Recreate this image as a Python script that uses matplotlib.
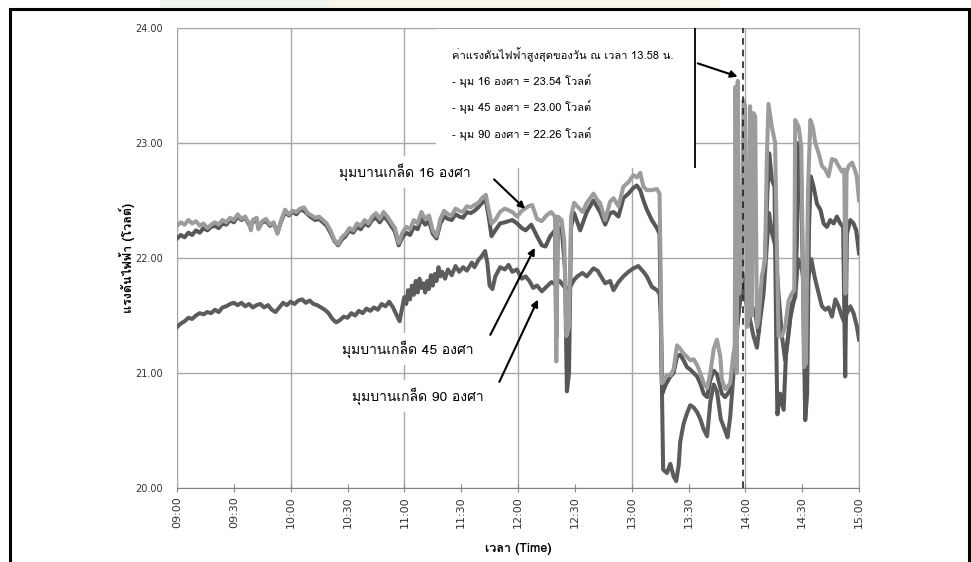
import matplotlib
matplotlib.use('Agg')
import matplotlib.pyplot as plt
from matplotlib import font_manager
from matplotlib.ft2font import FT2Font
from matplotlib.patches import Rectangle

# pick any installed font that has Thai glyphs
thai_font = None
for f in font_manager.fontManager.ttflist:
    try:
        if 0x0E01 in FT2Font(f.fname).get_charmap():
            thai_font = f.name
            break
    except Exception:
        pass
thai_fam = [thai_font, 'DejaVu Sans'] if thai_font else ['DejaVu Sans']

# minutes after 09:00
t16 = [0, 2, 4, 6, 8, 10, 12, 14, 16, 18, 20, 22, 24, 26, 28, 30, 32, 34, 36, 38, 39, 40, 42, 43, 45, 47, 49,
       51, 53, 55, 57, 59, 61, 63, 65, 67, 69, 71, 73, 75, 77, 79, 81, 83, 85, 87, 89, 91, 93, 95, 97, 99, 101,
       103, 105, 107, 109, 111, 113, 115, 117, 119, 121, 123, 125, 127, 129, 131, 133, 135, 137, 139, 141, 143,
       145, 147, 149, 151, 153, 155, 157, 159, 161, 163, 164.5, 166, 168, 170.5, 173, 177, 179.5, 182, 185.5,
       187.5, 190, 192.5, 195, 197.5, 199.5, 200.2, 201, 203, 204.4, 205.5, 206.9, 208, 209.6, 211.3, 214, 216.3,
       219.8, 222, 223.3, 226, 228.6, 230.4, 233, 235.6, 238.3, 240.9, 242.7, 244.5, 246.2, 248, 250.6, 253.3,
       254.7, 255.3, 255.9, 256.8, 258.6, 260.4, 262.1, 263.9, 265.6, 267.4, 269.2, 270.9, 272.7, 274.5, 276.2,
       278, 279.8, 281.5, 283.3, 285, 286.8, 287.6, 289.5, 292, 293.7, 294.4, 294.8, 295.4, 296.0, 296.7, 298.1,
       299.0, 299.9, 300.8, 301.7, 302.5, 303.4, 304.3, 305.2, 306.1, 306.9, 308.7, 310.4, 311.3, 312.2, 314,
       315.7, 316.6, 317.5, 319.3, 321, 322.8, 324.5, 325.8, 326.3, 328.1, 329.5, 330.3, 330.9, 332, 333, 334.3,
       335.6, 336.9, 338.7, 340.4, 342.2, 343.9, 345.7, 347.5, 349.2, 351, 352.2, 352.8, 353.4, 354.5, 356.3,
       357.7, 358.8, 360]
v16 = [22.28, 22.31, 22.29, 22.33, 22.30, 22.32, 22.28, 22.30, 22.26, 22.29, 22.31, 22.29, 22.33, 22.31, 22.35,
       22.33, 22.38, 22.34, 22.36, 22.30, 22.24, 22.33, 22.35, 22.25, 22.32, 22.34, 22.29, 22.31, 22.21, 22.33,
       22.42, 22.38, 22.41, 22.40, 22.43, 22.44, 22.39, 22.37, 22.35, 22.36, 22.33, 22.30, 22.24, 22.16, 22.12,
       22.18, 22.21, 22.26, 22.24, 22.30, 22.28, 22.33, 22.30, 22.36, 22.39, 22.34, 22.40, 22.36, 22.31, 22.26,
       22.13, 22.22, 22.27, 22.25, 22.33, 22.30, 22.40, 22.34, 22.37, 22.24, 22.19, 22.34, 22.41, 22.38, 22.37,
       22.43, 22.41, 22.40, 22.45, 22.44, 22.46, 22.48, 22.52, 22.55, 22.42, 22.30, 22.33, 22.40, 22.43, 22.40,
       22.36, 22.41, 22.45, 22.46, 22.34, 22.32, 22.37, 22.40, 22.36, 21.10, 22.36, 22.33, 22.15, 21.32, 21.40,
       22.36, 22.48, 22.45, 22.40, 22.48, 22.56, 22.50, 22.48, 22.33, 22.49, 22.52, 22.45, 22.62, 22.66, 22.72,
       22.70, 22.74, 22.62, 22.59, 22.59, 22.60, 22.56, 21.87, 20.91, 20.94, 20.98, 20.98, 21.03, 21.24, 21.21,
       21.17, 21.14, 21.11, 21.12, 21.07, 21.00, 20.91, 20.87, 21.00, 21.21, 21.29, 21.14, 20.94, 20.86, 20.91,
       21.17, 21.20, 23.49, 21.00, 23.54, 21.69, 21.84, 23.37, 23.32, 21.40, 21.46, 23.32, 21.50, 23.26, 23.23,
       21.40, 21.45, 21.84, 21.98, 22.85, 23.34, 23.14, 23.00, 22.13, 21.32, 21.32, 21.40, 21.63, 21.69, 21.72,
       23.20, 23.14, 22.97, 22.00, 21.05, 21.08, 22.56, 23.20, 23.14, 23.00, 22.91, 22.80, 22.77, 22.71, 22.86,
       22.85, 22.80, 22.75, 22.77, 21.69, 22.74, 22.80, 22.83, 22.77, 22.71, 22.50]

t45 = [0, 2, 4, 6, 8, 10, 12, 14, 16, 18, 20, 22, 24, 26, 28, 30, 32, 34, 36, 38, 40, 42, 43, 45, 47, 49, 51,
       53, 55, 57, 59, 61, 63, 65, 67, 69, 71, 73, 75, 77, 79, 81, 83, 85, 87, 89, 91, 93, 95, 97, 99, 101, 103,
       105, 107, 109, 111, 113, 115, 117, 119, 121, 123, 125, 127, 129, 131, 133, 135, 137, 139, 141, 143, 145,
       147, 149, 151, 153, 155, 157, 159, 161, 163, 164.5, 166, 168, 170.5, 173, 177, 179.5, 182, 184, 187, 190,
       192.6, 194.5, 197, 199.5, 200.2, 201, 203, 204.8, 205.8, 206.9, 208, 209.6, 212.8, 216.3, 219.8, 223.3,
       226, 228.6, 230.4, 233, 235.6, 238.3, 240.9, 242.7, 244.5, 246.2, 248, 250.6, 253.3, 254.7, 255.5, 256.1,
       258, 260.4, 262.1, 263.9, 265.6, 267.4, 269.2, 270.9, 272.7, 274.5, 276.2, 278, 279.8, 281.5, 283.3, 285,
       287.6, 289.3, 292, 293.7, 295.5, 297.3, 299.0, 299.9, 301.7, 303.4, 305.2, 306.9, 308.7, 310.4, 311.6,
       312.6, 314, 315.4, 316.3, 316.9, 318.4, 320.2, 321.4, 323.7, 326, 327.2, 328.1, 329.5, 330.5, 331.6,
       332.6, 333.6, 334.5, 336, 337.8, 339.6, 341.3, 343, 344.8, 346.6, 348.3, 350.1, 351.6, 352.7, 353.6,
       355.4, 357.1, 358.5, 360]
v45 = [22.17, 22.20, 22.18, 22.22, 22.20, 22.24, 22.22, 22.26, 22.24, 22.27, 22.28, 22.26, 22.30, 22.29, 22.33,
       22.31, 22.36, 22.33, 22.35, 22.29, 22.31, 22.34, 22.26, 22.31, 22.32, 22.28, 22.30, 22.22, 22.32, 22.40,
       22.37, 22.40, 22.38, 22.42, 22.41, 22.38, 22.35, 22.33, 22.34, 22.31, 22.28, 22.22, 22.15, 22.11, 22.16,
       22.19, 22.24, 22.22, 22.27, 22.25, 22.30, 22.28, 22.33, 22.35, 22.31, 22.36, 22.33, 22.28, 22.23, 22.11,
       22.18, 22.22, 22.20, 22.27, 22.25, 22.34, 22.29, 22.32, 22.21, 22.17, 22.30, 22.36, 22.34, 22.33, 22.38,
       22.36, 22.35, 22.40, 22.39, 22.41, 22.44, 22.48, 22.50, 22.36, 22.19, 22.24, 22.30, 22.31, 22.33, 22.30,
       22.26, 22.24, 22.29, 22.19, 22.11, 22.10, 22.19, 22.24, 21.30, 22.24, 22.27, 21.90, 20.84, 21.00, 22.27,
       22.39, 22.24, 22.40, 22.50, 22.40, 22.29, 22.39, 22.40, 22.36, 22.52, 22.56, 22.61, 22.63, 22.59, 22.50,
       22.42, 22.33, 22.26, 22.21, 21.29, 20.82, 20.90, 20.97, 21.00, 21.14, 21.16, 21.11, 21.05, 21.03, 21.00,
       20.97, 20.91, 20.82, 20.79, 20.94, 21.02, 20.99, 20.82, 20.79, 20.85, 21.11, 21.40, 21.64, 21.84, 21.69,
       21.46, 21.58, 21.52, 21.35, 21.69, 22.01, 22.56, 22.91, 22.68, 22.62, 21.26, 20.64, 20.82, 20.68, 21.15,
       21.48, 21.66, 22.13, 23.00, 22.68, 21.69, 20.59, 20.82, 22.27, 22.71, 22.62, 22.47, 22.42, 22.30, 22.27,
       22.33, 22.30, 22.36, 22.30, 22.27, 20.97, 22.21, 22.33, 22.30, 22.24, 22.04]

t90 = [0, 2, 4, 6, 8, 10, 12, 14, 16, 18, 20, 22, 24, 26, 28, 30, 32, 34, 36, 38, 40, 42, 44, 46, 48, 50, 52,
       54, 56, 58, 60, 62, 64, 66, 68, 70, 72, 74, 76, 78, 80, 82, 84, 86, 88, 90, 92, 94, 96, 98, 100, 102, 104,
       106, 108, 110, 112, 114, 116, 117.5, 119, 120, 121, 122, 123, 124, 125, 126, 127, 128, 129, 130, 131, 132,
       133, 134, 135, 136, 137, 138, 139, 140, 141.5, 143, 145, 147, 149, 151, 153, 155.6, 157, 159, 161, 162.6,
       163.8, 165, 166.5, 168, 170.6, 173, 175, 177, 179.4, 182, 184, 186, 188, 190, 192.6, 195, 197.6, 200, 202,
       204.4, 206.9, 209.6, 211.3, 214, 216.3, 219.8, 222, 224.5, 226, 228.6, 230.4, 233, 235.6, 238.3, 240.9,
       243.5, 246.2, 248, 250.6, 253.3, 254.7, 255.4, 256.0, 256.6, 258.6, 260.4, 262.1, 263.5, 264.8, 265.6,
       267.4, 269.2, 270.9, 272.7, 274.5, 276.2, 278, 279.8, 281.5, 283.3, 285, 287, 289.3, 290.6, 292, 294,
       296.4, 298.5, 299.9, 302.5, 304.3, 306.1, 307.8, 309.6, 311.3, 312.5, 314, 315.7, 317.5, 319.3, 321,
       322.8, 324.5, 326.3, 327.8, 329.9, 331.6, 333.4, 334.8, 336.5, 338.7, 340.4, 342.2, 343.9, 345.7, 347.5,
       349.2, 351, 352.3, 353.6, 355.4, 357.1, 358.8, 360]
v90 = [21.40, 21.43, 21.45, 21.48, 21.47, 21.50, 21.52, 21.51, 21.53, 21.52, 21.55, 21.53, 21.57, 21.58, 21.60,
       21.61, 21.59, 21.61, 21.58, 21.60, 21.57, 21.59, 21.60, 21.57, 21.59, 21.55, 21.53, 21.57, 21.61, 21.59,
       21.62, 21.60, 21.63, 21.64, 21.61, 21.63, 21.60, 21.59, 21.57, 21.55, 21.52, 21.47, 21.44, 21.46, 21.49,
       21.48, 21.52, 21.50, 21.54, 21.52, 21.56, 21.54, 21.57, 21.55, 21.60, 21.58, 21.62, 21.57, 21.50, 21.45,
       21.58, 21.66, 21.60, 21.72, 21.64, 21.76, 21.68, 21.80, 21.70, 21.82, 21.74, 21.78, 21.70, 21.80, 21.73,
       21.85, 21.76, 21.86, 21.80, 21.92, 21.84, 21.88, 21.82, 21.90, 21.85, 21.93, 21.88, 21.92, 21.89, 21.96,
       21.92, 21.98, 22.02, 22.06, 21.96, 21.76, 21.73, 21.84, 21.92, 21.90, 21.94, 21.88, 21.90, 21.82, 21.84,
       21.80, 21.74, 21.76, 21.71, 21.75, 21.79, 21.77, 21.80, 21.75, 21.73, 21.81, 21.84, 21.87, 21.84, 21.91,
       21.89, 21.82, 21.78, 21.80, 21.72, 21.79, 21.84, 21.88, 21.91, 21.93, 21.88, 21.84, 21.75, 21.72, 21.69,
       21.52, 20.80, 20.16, 20.13, 20.21, 20.10, 20.06, 20.20, 20.40, 20.56, 20.65, 20.72, 20.70, 20.66, 20.60,
       20.51, 20.45, 20.75, 20.90, 20.84, 20.60, 20.50, 20.44, 20.62, 21.05, 21.52, 21.87, 21.72, 21.46, 21.32,
       21.22, 21.46, 21.69, 22.10, 22.39, 22.22, 22.11, 21.69, 21.32, 21.11, 21.35, 21.60, 21.66, 21.99, 21.90,
       21.69, 21.84, 21.99, 21.84, 21.69, 21.58, 21.55, 21.57, 21.49, 21.64, 21.58, 21.49, 21.44, 21.52, 21.58,
       21.52, 21.41, 21.29]

time_labels = ['09:00', '09:30', '10:00', '10:30', '11:00', '11:30', '12:00', '12:30',
               '13:00', '13:30', '14:00', '14:30', '15:00']
y_ticks = [20, 21, 22, 23, 24]

fig = plt.figure(figsize=(9.71, 5.62), dpi=100)
ax = fig.add_axes([0.1823, 0.1317, 0.7024, 0.8185])

ax.plot(t90, v90, color='#5c5c5c', lw=2.9, zorder=3)
ax.plot(t45, v45, color='#575757', lw=2.9, zorder=4)
ax.plot(t16, v16, color='#9c9c9c', lw=2.9, zorder=5)

ax.set_xlim(0, 360)
ax.set_ylim(20, 24)
ax.set_xticks(range(0, 361, 30))
ax.set_xticklabels(time_labels, rotation=90, fontsize=8, color='#333333')
ax.set_yticks(y_ticks)
ax.set_yticklabels(['%.2f' % y for y in y_ticks], fontsize=7, color='#333333')
ax.tick_params(axis='y', length=0, pad=10)
ax.tick_params(axis='x', direction='inout', length=6, color='#888888', pad=3)
for x in range(0, 361, 60):
    ax.axvline(x, color='#a8a8a8', lw=1, zorder=0.5)
for y in y_ticks:
    ax.axhline(y, color='#a8a8a8', lw=1, zorder=0.5)
for s in ax.spines.values():
    s.set_color('#a8a8a8')
ax.spines['bottom'].set_color('#808080')

# white box under the note, closed by a black rule on its right
ax.add_patch(Rectangle((136.7, 22.78), 273.5 - 136.7, 1.22, facecolor='white', edgecolor='none', zorder=1))
ax.vlines(273.5, 22.78, 24, color='black', lw=1.3, zorder=6)
ax.axvline(298.7, color='#222222', lw=1.2, ls=(0, (4, 3)), zorder=6)

note = ['ค่าแรงดันไฟฟ้าสูงสุดของวัน ณ เวลา 13.58 น.',
        '- มุม 16 องศา = 23.54 โวลต์',
        '- มุม 45 องศา = 23.00 โวลต์',
        '- มุม 90 องศา = 22.26 โวลต์']
for i, line in enumerate(note):
    ax.text(145.2, [23.77, 23.54, 23.31, 23.08][i], line, fontsize=8, family=thai_fam,
            va='center', ha='left', zorder=7)
ax.annotate('', xy=(297.3, 23.57), xytext=(273.5, 23.70),
            arrowprops=dict(arrowstyle='-|>', color='black', lw=1.5, mutation_scale=10), zorder=7)

box = dict(facecolor='white', edgecolor='none', pad=5)
ax.text(120, 22.75, 'มุมบานเกล็ด 16 องศา', fontsize=10, family=thai_fam, ha='center', va='center',
        bbox=box, zorder=2)
ax.text(122, 21.21, 'มุมบานเกล็ด 45 องศา', fontsize=10, family=thai_fam, ha='center', va='center',
        bbox=box, zorder=2)
ax.text(127, 20.80, 'มุมบานเกล็ด 90 องศา', fontsize=10, family=thai_fam, ha='center', va='center',
        bbox=box, zorder=2)
arrow = dict(arrowstyle='-|>', color='black', lw=1.5, mutation_scale=10)
ax.annotate('', xy=(184.8, 22.41), xytext=(166.3, 22.70), arrowprops=arrow, zorder=7)
ax.annotate('', xy=(189.5, 22.11), xytext=(164.7, 21.31), arrowprops=arrow, zorder=7)
ax.annotate('', xy=(191.1, 21.66), xytext=(169.5, 20.90), arrowprops=arrow, zorder=7)

fig.text(127 / 971, 1 - 258 / 562, 'แรงดันไฟฟ้า (โวลต์)', rotation=90, fontsize=9, fontweight='bold',
         family=thai_fam, ha='center', va='center')
fig.text(518 / 971, 1 - 549 / 562, 'เวลา (Time)', fontsize=9, fontweight='bold',
         family=thai_fam, ha='center', va='center')

# page frame and the faint edge of the watermark above it
fig.patches.append(Rectangle((160 / 971, 1 - 9 / 562), 170 / 971, 9 / 562, transform=fig.transFigure,
                             facecolor='#eff6ed', edgecolor='none'))
fig.patches.append(Rectangle((330 / 971, 1 - 9 / 562), 390 / 971, 9 / 562, transform=fig.transFigure,
                             facecolor='#f9f5e9', edgecolor='none'))
fig.patches.append(Rectangle((10 / 971, -0.05), 959 / 971, 1.05 - 9 / 562, transform=fig.transFigure,
                             fill=False, edgecolor='black', lw=2.2))

fig.savefig('out.png', dpi=100)
